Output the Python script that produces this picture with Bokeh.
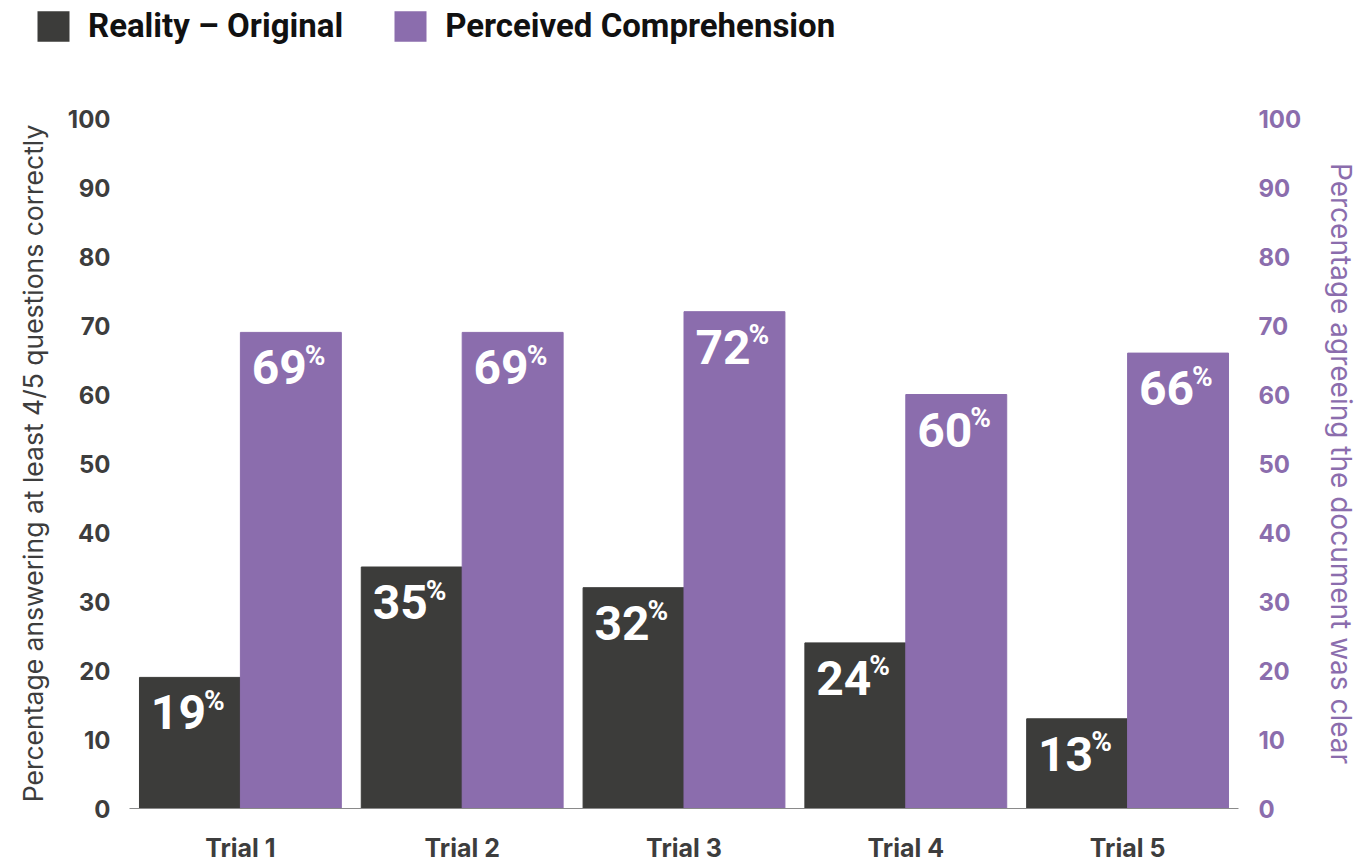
from bokeh.plotting import figure
from bokeh.layouts import column
from bokeh.models import ColumnDataSource, FactorRange, Range1d, LinearAxis, FixedTicker, Legend, LegendItem
from bokeh.transform import dodge
from bokeh.core.properties import value
from bokeh.embed import file_html
from bokeh.resources import INLINE

# ---- data ----
trials = ["Trial 1", "Trial 2", "Trial 3", "Trial 4", "Trial 5"]
reality = [19, 35, 32, 24, 13]
perceived = [69, 69, 72, 60, 66]
y_ticks = [0, 10, 20, 30, 40, 50, 60, 70, 80, 90, 100]
series_names = ["Reality – Original", "Perceived Comprehension"]
left_title = "Percentage answering at least 4/5 questions correctly"
right_title = "Percentage agreeing the document was clear"

DARK = "#3c3c3a"
PURPLE = "#8b6dad"
TEXT = "#3d3d3d"
BAR_W = 0.455
OFF = BAR_W / 2

src = ColumnDataSource(dict(
    trial=trials,
    reality=reality,
    perceived=perceived,
    reality_lbl=[str(v) for v in reality],
    perceived_lbl=[str(v) for v in perceived],
    pct=["%"] * len(trials),
))

# ---- legend strip (separate figure so the legend can sit at the page's top-left) ----
LEG_H = 98
lg = figure(width=1369, height=LEG_H, x_range=Range1d(0, 1), y_range=Range1d(0, 1),
            output_backend="svg", toolbar_location=None,
            x_axis_location=None, y_axis_location=None,
            min_border_left=0, min_border_right=0, min_border_top=0, min_border_bottom=0)
lg.frame_align = False
lg.outline_line_color = None
lg.grid.visible = False
# zero-size proxies: only their legend swatches are seen
d1 = lg.vbar(x=[0], top=[0], width=0, fill_color=DARK, line_alpha=0)
d2 = lg.vbar(x=[0], top=[0], width=0, fill_color=PURPLE, line_alpha=0)
legend = Legend(items=[LegendItem(label=series_names[0], renderers=[d1]),
                       LegendItem(label=series_names[1], renderers=[d2])],
                orientation="horizontal", location=(33, LEG_H - 45),
                glyph_width=40, glyph_height=38, label_standoff=15, spacing=47,
                padding=0, margin=0, border_line_color=None, background_fill_alpha=0,
                label_text_font="Roboto", label_text_font_style="bold",
                label_text_font_size="33px", label_text_color="#111111",
                label_height=38)
lg.add_layout(legend, "center")

# ---- main chart ----
p = figure(width=1369, height=865 - LEG_H, x_range=FactorRange(*trials), y_range=Range1d(0, 100),
           output_backend="svg", toolbar_location=None,
           min_border_left=129, min_border_right=131, min_border_top=118 - LEG_H, min_border_bottom=57)
p.frame_align = False
p.extra_y_ranges = {"right": Range1d(0, 100)}
p.outline_line_color = None
p.grid.visible = False

r1 = p.vbar(x=dodge("trial", -OFF, range=p.x_range), top="reality", width=BAR_W, source=src,
            fill_color=DARK, line_color=DARK)
r2 = p.vbar(x=dodge("trial", OFF, range=p.x_range), top="perceived", width=BAR_W, source=src,
            fill_color=PURPLE, line_color=PURPLE)

for col, off in (("reality", -OFF), ("perceived", OFF)):
    p.text(x=dodge("trial", off, range=p.x_range), y=col, text=col + "_lbl", source=src,
           text_align="right", text_baseline="alphabetic", x_offset=16, y_offset=35,
           text_color="white", text_font=value("Roboto"), text_font_style="bold",
           text_font_size="48px")
    p.text(x=dodge("trial", off, range=p.x_range), y=col, text="pct", source=src,
           text_align="left", text_baseline="alphabetic", x_offset=14, y_offset=23,
           text_color="white", text_font=value("Roboto"), text_font_style="bold",
           text_font_size="28px")

# left axis
ya = p.yaxis[0]
ya.ticker = FixedTicker(ticks=y_ticks)
ya.axis_label = left_title
ya.axis_label_text_font = "Inter"
ya.axis_label_text_font_style = "normal"
ya.axis_label_text_font_size = "26.5px"
ya.axis_label_text_color = TEXT
ya.axis_label_standoff = 16
ya.major_label_text_font = "Inter"
ya.major_label_text_font_style = "bold"
ya.major_label_text_font_size = "24px"
ya.major_label_text_color = TEXT
ya.major_label_standoff = 19
ya.axis_line_color = None
ya.major_tick_line_color = None
ya.minor_tick_line_color = None
ya.major_tick_out = 0
ya.major_tick_in = 0

# right axis
ra = LinearAxis(y_range_name="right", ticker=FixedTicker(ticks=y_ticks), axis_label=right_title)
ra.axis_label_text_font = "Inter"
ra.axis_label_text_font_style = "normal"
ra.axis_label_text_font_size = "28px"
ra.axis_label_text_color = PURPLE
ra.axis_label_standoff = 20
ra.major_label_text_font = "Inter"
ra.major_label_text_font_style = "bold"
ra.major_label_text_font_size = "24px"
ra.major_label_text_color = PURPLE
ra.major_label_standoff = 20
ra.axis_line_color = None
ra.major_tick_line_color = None
ra.minor_tick_line_color = None
ra.major_tick_out = 0
ra.major_tick_in = 0
p.add_layout(ra, "right")

# x axis
xa = p.xaxis[0]
xa.major_label_text_font = "Inter"
xa.major_label_text_font_style = "bold"
xa.major_label_text_font_size = "25px"
xa.major_label_text_color = TEXT
xa.major_label_standoff = 24
xa.axis_line_color = "#8a8a8a"
xa.axis_line_width = 1
xa.major_tick_line_color = None
xa.major_tick_out = 0
xa.major_tick_in = 0

layout = column(lg, p, spacing=0)
open("out.html", "w").write(file_html(layout, INLINE))
